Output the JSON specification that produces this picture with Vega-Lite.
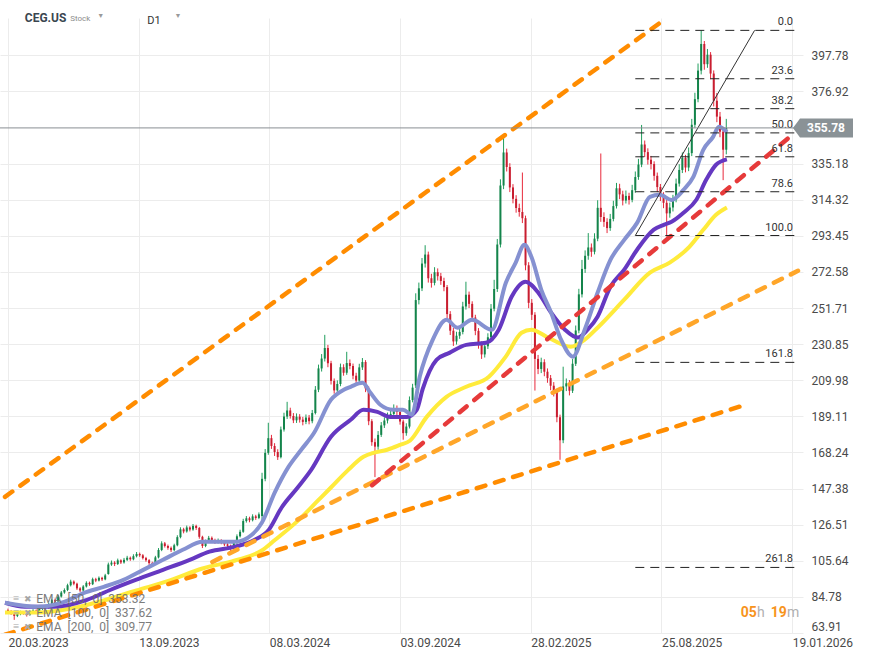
{
"$schema":"https://vega.github.io/schema/vega-lite/v6.json",
"width":803,"height":615,
"autosize":{"type":"none"},
"padding":{"left":0,"top":18,"right":68,"bottom":26},
"background":"#ffffff",
"config":{"view":{"stroke":null},"font":"Roboto"},
"datasets":{
"one":[{}],
"candles":[
{"i":0,"o":77.2,"h":78,"l":75.6,"c":76.5},{"i":3,"o":76.5,"h":77.1,"l":74.4,"c":75.2},{"i":6,"o":75.2,"h":75.9,"l":71.5,"c":73.8},{"i":9,"o":73.8,"h":75.6,"l":73.1,"c":74.9},{"i":12,"o":74.9,"h":76.8,"l":74.2,"c":76},{"i":15,"o":76,"h":76.6,"l":74.5,"c":75.1},{"i":18,"o":75.1,"h":75.8,"l":73.4,"c":74.3},{"i":21,"o":74.3,"h":76.4,"l":73.9,"c":75.8},{"i":24,"o":75.8,"h":77.7,"l":75.2,"c":76.9},{"i":27,"o":76.9,"h":77.5,"l":75.4,"c":76.2},
{"i":30,"o":76.2,"h":78.5,"l":75.8,"c":77.8},{"i":33,"o":77.8,"h":79.9,"l":77.2,"c":79.1},{"i":36,"o":79.1,"h":79.8,"l":77.6,"c":78.4},{"i":39,"o":78.4,"h":81.3,"l":78,"c":80.6},{"i":42,"o":80.6,"h":83.7,"l":80.1,"c":82.9},{"i":45,"o":82.9,"h":83.8,"l":81.3,"c":82.1},{"i":48,"o":82.1,"h":85.9,"l":81.7,"c":85},{"i":51,"o":85,"h":88.2,"l":84.4,"c":87.3},{"i":54,"o":87.3,"h":89.7,"l":86.6,"c":88.8},{"i":57,"o":88.8,"h":92.4,"l":88.1,"c":91.5},
{"i":60,"o":91.5,"h":94.7,"l":90.8,"c":93.6},{"i":63,"o":93.6,"h":94.3,"l":91.5,"c":92.4},{"i":66,"o":92.4,"h":93,"l":88.8,"c":89.7},{"i":69,"o":89.7,"h":90.4,"l":87.6,"c":88.5},{"i":72,"o":88.5,"h":91.6,"l":88,"c":90.8},{"i":75,"o":90.8,"h":93.8,"l":90.2,"c":92.9},{"i":78,"o":92.9,"h":93.6,"l":91.2,"c":92.1},{"i":81,"o":92.1,"h":95.9,"l":91.6,"c":95},{"i":84,"o":95,"h":95.8,"l":93.3,"c":94.2},{"i":87,"o":94.2,"h":96.6,"l":93.7,"c":95.8},
{"i":90,"o":95.8,"h":96.4,"l":94,"c":94.9},{"i":93,"o":94.9,"h":98.1,"l":94.4,"c":97.2},{"i":96,"o":98,"h":104.6,"l":97.6,"c":103.5},{"i":99,"o":103.5,"h":105.8,"l":102.7,"c":104.6},{"i":102,"o":104.6,"h":105.4,"l":102.6,"c":103.8},{"i":105,"o":103.8,"h":106.9,"l":103.2,"c":105.9},{"i":108,"o":105.9,"h":106.5,"l":103.8,"c":104.7},{"i":111,"o":104.7,"h":107.3,"l":104,"c":106.2},{"i":114,"o":106.2,"h":108.5,"l":105.5,"c":107.4},{"i":117,"o":107.4,"h":108.1,"l":105.6,"c":106.5},
{"i":120,"o":106.5,"h":109.4,"l":105.9,"c":108.3},{"i":123,"o":108.3,"h":110.7,"l":107.6,"c":109.6},{"i":126,"o":109.6,"h":110.4,"l":107.9,"c":108.8},{"i":129,"o":108.8,"h":109.5,"l":106.4,"c":107.2},{"i":132,"o":107.2,"h":107.9,"l":105.1,"c":106},{"i":135,"o":106,"h":106.6,"l":103.2,"c":104.3},{"i":138,"o":104.3,"h":105.1,"l":102.8,"c":103.9},{"i":141,"o":103.9,"h":108.5,"l":103.3,"c":107.6},{"i":144,"o":107.6,"h":113,"l":107,"c":111.9},{"i":147,"o":111.9,"h":116.9,"l":111.2,"c":115.7},
{"i":150,"o":115.7,"h":116.5,"l":113.3,"c":114.2},{"i":153,"o":114.2,"h":115,"l":112,"c":113.1},{"i":156,"o":113.1,"h":113.9,"l":110.7,"c":111.8},{"i":159,"o":111.8,"h":115.5,"l":111.1,"c":114.6},{"i":162,"o":114.6,"h":120.4,"l":114,"c":119.3},{"i":165,"o":119.3,"h":125,"l":118.6,"c":123.8},{"i":168,"o":123.8,"h":124.7,"l":121.5,"c":122.6},{"i":171,"o":122.6,"h":126,"l":121.9,"c":124.9},{"i":174,"o":124.9,"h":125.6,"l":122.6,"c":123.7},{"i":177,"o":123.7,"h":126.9,"l":123,"c":125.8},
{"i":180,"o":125.8,"h":126.5,"l":123.5,"c":124.6},{"i":183,"o":124.6,"h":125.2,"l":118.4,"c":119.5},{"i":186,"o":119.5,"h":120.1,"l":113,"c":114.2},{"i":189,"o":114.2,"h":117.9,"l":113.5,"c":116.8},{"i":192,"o":116.8,"h":120,"l":116.1,"c":118.9},{"i":195,"o":118.9,"h":119.7,"l":116.6,"c":117.6},{"i":198,"o":117.6,"h":118.4,"l":115.4,"c":116.3},{"i":201,"o":116.3,"h":118.5,"l":115.6,"c":117.4},{"i":204,"o":117.4,"h":118.1,"l":115.2,"c":116.2},{"i":207,"o":116.2,"h":117,"l":114.1,"c":115.1},
{"i":210,"o":115.1,"h":115.9,"l":113.2,"c":114.3},{"i":213,"o":114.3,"h":115,"l":110.8,"c":112.8},{"i":216,"o":112.8,"h":116.9,"l":112.1,"c":115.9},{"i":219,"o":115.9,"h":120.9,"l":115.3,"c":119.8},{"i":222,"o":119.8,"h":123.6,"l":119.1,"c":122.4},{"i":225,"o":122.4,"h":129.9,"l":121.8,"c":128.6},{"i":228,"o":128.6,"h":131.5,"l":127.7,"c":130.2},{"i":231,"o":130.2,"h":131.1,"l":127.9,"c":129.1},{"i":234,"o":129.1,"h":132.5,"l":128.4,"c":131.3},{"i":237,"o":131.3,"h":132.2,"l":129.3,"c":130.4},
{"i":240,"o":130.4,"h":133.6,"l":129.7,"c":132.5},{"i":243,"o":131.5,"h":156.5,"l":128,"c":153},{"i":246,"o":153,"h":170.2,"l":151.6,"c":168},{"i":249,"o":168,"h":185.4,"l":166.9,"c":176.5},{"i":252,"o":176.5,"h":178.4,"l":170.3,"c":172},{"i":255,"o":172,"h":173.6,"l":166.2,"c":168.5},{"i":258,"o":168.5,"h":170.1,"l":163.9,"c":165.5},{"i":261,"o":165.5,"h":183.2,"l":164.8,"c":181.5},{"i":264,"o":181.5,"h":191.2,"l":180.3,"c":189},{"i":267,"o":189,"h":197.5,"l":187.6,"c":192.5},
{"i":270,"o":192.5,"h":194.1,"l":187.8,"c":189.3},{"i":273,"o":189.3,"h":191,"l":185.2,"c":186.8},{"i":276,"o":186.8,"h":190.8,"l":185.3,"c":188.9},{"i":279,"o":188.9,"h":190.4,"l":185.5,"c":187.2},{"i":282,"o":187.2,"h":188.8,"l":183.9,"c":185.9},{"i":285,"o":185.9,"h":190.2,"l":184.6,"c":188.4},{"i":288,"o":188.4,"h":189.9,"l":184.5,"c":186.3},{"i":291,"o":186.3,"h":192.8,"l":185.1,"c":191},{"i":294,"o":191,"h":206.6,"l":190.2,"c":204.5},{"i":297,"o":204.5,"h":219,"l":203.1,"c":216.8},
{"i":300,"o":216.8,"h":225.1,"l":215,"c":222.5},{"i":303,"o":222.5,"h":236.2,"l":220.8,"c":228.6},{"i":306,"o":228.6,"h":230.4,"l":217.5,"c":219.8},{"i":309,"o":219.8,"h":221.2,"l":207.5,"c":209.6},{"i":312,"o":209.6,"h":211,"l":202.2,"c":204.1},{"i":315,"o":204.1,"h":209.9,"l":202.6,"c":207.8},{"i":318,"o":207.8,"h":219.6,"l":206.5,"c":217.5},{"i":321,"o":217.5,"h":219.2,"l":212.6,"c":214.3},{"i":324,"o":214.3,"h":226.4,"l":213.1,"c":219.9},{"i":327,"o":219.9,"h":222,"l":216.3,"c":218.2},
{"i":330,"o":218.2,"h":219.6,"l":210.5,"c":212.6},{"i":333,"o":212.6,"h":214.3,"l":207.9,"c":209.8},{"i":336,"o":209.8,"h":219.5,"l":208.6,"c":217.4},{"i":339,"o":217.4,"h":222.8,"l":215.9,"c":220.5},{"i":342,"o":220.5,"h":221.6,"l":203.1,"c":205.2},{"i":345,"o":205.2,"h":206.4,"l":184,"c":186.3},{"i":348,"o":186.3,"h":187.5,"l":172.1,"c":174.2},{"i":351,"o":174.2,"h":176.3,"l":154,"c":171.6},{"i":354,"o":171.6,"h":180.6,"l":169.8,"c":178.4},{"i":357,"o":178.4,"h":185.8,"l":177.2,"c":183.9},
{"i":360,"o":183.9,"h":188.6,"l":182.4,"c":186.7},{"i":363,"o":186.7,"h":191.3,"l":185,"c":189.2},{"i":366,"o":189.2,"h":192.6,"l":187.8,"c":190.5},{"i":369,"o":190.5,"h":196,"l":189.1,"c":193.8},{"i":372,"o":193.8,"h":195.4,"l":189.9,"c":191.6},{"i":375,"o":191.6,"h":192.8,"l":184.3,"c":186.1},{"i":378,"o":186.1,"h":187.2,"l":175.6,"c":179.4},{"i":381,"o":179.4,"h":185.1,"l":177.9,"c":183.2},{"i":384,"o":183.2,"h":200.6,"l":182.1,"c":198.5},{"i":387,"o":198.5,"h":207.9,"l":197.2,"c":205.7},
{"i":390,"o":207,"h":260.2,"l":205.5,"c":256.3},{"i":393,"o":256.3,"h":266.4,"l":253.8,"c":263.1},{"i":396,"o":263.1,"h":280.6,"l":261.5,"c":277.4},{"i":399,"o":277.4,"h":288,"l":275.1,"c":282.6},{"i":402,"o":282.6,"h":284.3,"l":266.4,"c":268.9},{"i":405,"o":268.9,"h":271.5,"l":263.5,"c":266.2},{"i":408,"o":266.2,"h":275.3,"l":264.8,"c":272.4},{"i":411,"o":272.4,"h":274.6,"l":267.6,"c":270.1},{"i":414,"o":270.1,"h":272,"l":265.1,"c":267.3},{"i":417,"o":267.3,"h":269.2,"l":261.4,"c":263.8},
{"i":420,"o":263.8,"h":265,"l":245.6,"c":248.2},{"i":423,"o":248.2,"h":249.9,"l":236.1,"c":238.6},{"i":426,"o":238.6,"h":240.2,"l":229.8,"c":232.4},{"i":429,"o":232.4,"h":238,"l":230.6,"c":235.7},{"i":432,"o":235.7,"h":240.4,"l":233.9,"c":237.9},{"i":435,"o":237.9,"h":255.3,"l":236.5,"c":252.6},{"i":438,"o":252.6,"h":266.9,"l":250.8,"c":259.4},{"i":441,"o":259.4,"h":261.2,"l":251.7,"c":254.1},{"i":444,"o":254.1,"h":255.6,"l":243.9,"c":246.2},{"i":447,"o":246.2,"h":247.8,"l":236,"c":238.5},
{"i":450,"o":238.5,"h":240.1,"l":228.2,"c":230.8},{"i":453,"o":230.8,"h":232.4,"l":222.3,"c":224.9},{"i":456,"o":224.9,"h":232,"l":223.1,"c":229.6},{"i":459,"o":229.6,"h":237.1,"l":228,"c":234.8},{"i":462,"o":234.8,"h":254,"l":233.5,"c":251.3},{"i":465,"o":251.3,"h":268,"l":249.8,"c":262.7},{"i":468,"o":262.7,"h":291.6,"l":261,"c":288.4},{"i":471,"o":288.4,"h":326.1,"l":286.7,"c":322.5},{"i":474,"o":322.5,"h":351,"l":320.4,"c":341.6},{"i":477,"o":341.6,"h":343.8,"l":330.6,"c":333.2},
{"i":480,"o":333.2,"h":335.4,"l":318.7,"c":321.4},{"i":483,"o":321.4,"h":323.3,"l":312.2,"c":314.8},{"i":486,"o":314.8,"h":316.9,"l":306.8,"c":309.5},{"i":489,"o":309.5,"h":312,"l":304.5,"c":307.2},{"i":492,"o":307.2,"h":330,"l":300.8,"c":303.6},{"i":495,"o":303.6,"h":305.1,"l":273.5,"c":276.4},{"i":498,"o":276.4,"h":278.2,"l":251.6,"c":254.7},{"i":501,"o":254.7,"h":256.9,"l":244.8,"c":247.8},{"i":504,"o":247.8,"h":249.3,"l":204,"c":222.3},{"i":507,"o":222.3,"h":224.6,"l":213.5,"c":216.5},
{"i":510,"o":216.5,"h":223,"l":214.1,"c":220.4},{"i":513,"o":220.4,"h":222.1,"l":212.3,"c":214.9},{"i":516,"o":214.9,"h":216.8,"l":208.5,"c":211.2},{"i":519,"o":211.2,"h":213,"l":204.2,"c":206.8},{"i":522,"o":206.8,"h":208.9,"l":200.6,"c":203.5},{"i":525,"o":203.5,"h":205,"l":185.7,"c":188.6},{"i":528,"o":188.6,"h":190.1,"l":164,"c":175.3},{"i":531,"o":175.3,"h":217.8,"l":173.6,"c":206.4},{"i":534,"o":206.4,"h":211,"l":203.7,"c":208.2},{"i":537,"o":208.2,"h":210.1,"l":201.2,"c":203.9},
{"i":540,"o":203.9,"h":222.3,"l":202.6,"c":219.5},{"i":543,"o":219.5,"h":241.6,"l":218.2,"c":238.7},{"i":546,"o":238.7,"h":262.8,"l":237.1,"c":259.6},{"i":549,"o":259.6,"h":279.5,"l":257.8,"c":274.3},{"i":552,"o":274.3,"h":285,"l":272,"c":281.9},{"i":555,"o":281.9,"h":295,"l":279.6,"c":286.7},{"i":558,"o":286.7,"h":289,"l":281.3,"c":284.2},{"i":561,"o":284.2,"h":294.9,"l":282.7,"c":291.8},{"i":564,"o":291.8,"h":314,"l":290.3,"c":309.6},{"i":567,"o":309.6,"h":341,"l":301.5,"c":304.3},
{"i":570,"o":304.3,"h":307,"l":298.6,"c":301.5},{"i":573,"o":301.5,"h":303.6,"l":295,"c":297.9},{"i":576,"o":297.9,"h":306.1,"l":296.3,"c":303.2},{"i":579,"o":303.2,"h":313.7,"l":301.8,"c":310.6},{"i":582,"o":310.6,"h":324,"l":309.2,"c":320.9},{"i":585,"o":320.9,"h":323.5,"l":314.6,"c":317.4},{"i":588,"o":317.4,"h":319.5,"l":311,"c":313.8},{"i":591,"o":313.8,"h":319.6,"l":312.1,"c":316.5},{"i":594,"o":316.5,"h":318.3,"l":311.5,"c":314.2},{"i":597,"o":314.2,"h":322.9,"l":312.8,"c":319.8},
{"i":600,"o":319.8,"h":330.6,"l":318.3,"c":327.4},{"i":603,"o":327.4,"h":337.9,"l":325.8,"c":334.6},{"i":606,"o":334.6,"h":357.5,"l":333.1,"c":346.2},{"i":609,"o":346.2,"h":348.5,"l":339,"c":341.8},{"i":612,"o":341.8,"h":344,"l":334.6,"c":337.4},{"i":615,"o":337.4,"h":339.6,"l":331.8,"c":334.9},{"i":618,"o":334.9,"h":336.5,"l":325.3,"c":328.1},{"i":621,"o":328.1,"h":330,"l":318.7,"c":321.6},{"i":624,"o":321.6,"h":323.4,"l":313.5,"c":316.3},{"i":627,"o":316.3,"h":318.6,"l":309.4,"c":312.5},
{"i":630,"o":312.5,"h":314.1,"l":293,"c":306.4},{"i":633,"o":306.4,"h":312.6,"l":303.9,"c":309.8},{"i":636,"o":309.8,"h":317.1,"l":307.5,"c":314.2},{"i":639,"o":314.2,"h":326.5,"l":312.8,"c":323.6},{"i":642,"o":323.6,"h":334.8,"l":321.9,"c":331.5},{"i":645,"o":331.5,"h":341.6,"l":329.7,"c":338.4},{"i":648,"o":338.4,"h":340.2,"l":330.1,"c":332.9},{"i":651,"o":332.9,"h":344.5,"l":330.8,"c":341.2},{"i":654,"o":341.2,"h":361,"l":339.5,"c":357.6},{"i":657,"o":357.6,"h":376.1,"l":355.8,"c":372.4},
{"i":660,"o":372.4,"h":393,"l":370.6,"c":388.9},{"i":663,"o":388.9,"h":412.15,"l":386.7,"c":404.3},{"i":666,"o":404.3,"h":406,"l":389.4,"c":392.6},{"i":669,"o":392.6,"h":401.4,"l":390.5,"c":398.1},{"i":672,"o":398.1,"h":399.6,"l":383.9,"c":387.2},{"i":675,"o":387.2,"h":389,"l":368.2,"c":371.5},{"i":678,"o":371.5,"h":376,"l":359.1,"c":362.3},{"i":681,"o":362.3,"h":365,"l":350.4,"c":353.6},{"i":684,"o":353.6,"h":355.2,"l":325.6,"c":343.2},{"i":687,"o":343.2,"h":361,"l":340.5,"c":355.78}
],
"ema":[
{"s":"e50","i":-2.8,"v":81.4},{"s":"e50","i":28.3,"v":79.1},{"s":"e50","i":53.8,"v":81.9},{"s":"e50","i":72.7,"v":87.1},{"s":"e50","i":91.6,"v":90.6},{"s":"e50","i":110.5,"v":94.6},{"s":"e50","i":129.4,"v":100.4},{"s":"e50","i":148.3,"v":106.2},{"s":"e50","i":167.2,"v":112},{"s":"e50","i":186.1,"v":116.6},{"s":"e50","i":202,"v":116.6},{"s":"e50","i":217.2,"v":116.6},{"s":"e50","i":233.3,"v":120.7},{"s":"e50","i":242.8,"v":127.6},{"s":"e50","i":255,"v":144.9},{"s":"e50","i":268.3,"v":159.9},{"s":"e50","i":280.5,"v":169.8},{"s":"e50","i":292.8,"v":179.6},{"s":"e50","i":308.9,"v":198.7},{"s":"e50","i":321.2,"v":204.5},{"s":"e50","i":327.8,"v":206.2},{"s":"e50","i":339.1,"v":208.5},{"s":"e50","i":346.7,"v":202.7},{"s":"e50","i":356.1,"v":195.8},{"s":"e50","i":368.4,"v":192.9},{"s":"e50","i":377.8,"v":192.9},{"s":"e50","i":386.3,"v":190},{"s":"e50","i":393.9,"v":212.2},{"s":"e50","i":406.2,"v":233.3},{"s":"e50","i":419.4,"v":244.9},{"s":"e50","i":429.8,"v":240.3},{"s":"e50","i":443.9,"v":244.9},{"s":"e50","i":462.8,"v":239.1},{"s":"e50","i":476.1,"v":266.2},{"s":"e50","i":485.5,"v":277.8},{"s":"e50","i":494,"v":288.2},{"s":"e50","i":500.6,"v":281.3},{"s":"e50","i":510.1,"v":262.2},{"s":"e50","i":519.5,"v":249},{"s":"e50","i":529,"v":233.4},{"s":"e50","i":540.3,"v":223.6},{"s":"e50","i":551.6,"v":239.2},{"s":"e50","i":563.9,"v":260.5},{"s":"e50","i":576.2,"v":279.5},{"s":"e50","i":589.4,"v":291.1},{"s":"e50","i":601.7,"v":300.9},{"s":"e50","i":614,"v":315.9},{"s":"e50","i":623.4,"v":317.1},{"s":"e50","i":634.7,"v":314.2},{"s":"e50","i":646.1,"v":320},{"s":"e50","i":655.5,"v":327.5},{"s":"e50","i":665,"v":343.1},{"s":"e50","i":674.4,"v":350.6},{"s":"e50","i":680,"v":356.4},{"s":"e50","i":687.6,"v":353.3},
{"s":"e100","i":-2.8,"v":81.4},{"s":"e100","i":16,"v":79.1},{"s":"e100","i":44.4,"v":79.1},{"s":"e100","i":75.6,"v":83.1},{"s":"e100","i":98.2,"v":88.9},{"s":"e100","i":122.8,"v":94.7},{"s":"e100","i":148.3,"v":100.4},{"s":"e100","i":173.8,"v":106.2},{"s":"e100","i":192.7,"v":110.9},{"s":"e100","i":217.2,"v":113.8},{"s":"e100","i":236.1,"v":117.8},{"s":"e100","i":249.4,"v":123.5},{"s":"e100","i":261.6,"v":136.3},{"s":"e100","i":277.7,"v":148.4},{"s":"e100","i":290,"v":158.2},{"s":"e100","i":308.9,"v":177.3},{"s":"e100","i":327.8,"v":187.1},{"s":"e100","i":340,"v":192.9},{"s":"e100","i":353.3,"v":191.7},{"s":"e100","i":365.5,"v":188.8},{"s":"e100","i":381.6,"v":188.8},{"s":"e100","i":391,"v":192.9},{"s":"e100","i":396.7,"v":205},{"s":"e100","i":409.9,"v":221.8},{"s":"e100","i":422.2,"v":225.8},{"s":"e100","i":438.3,"v":230.4},{"s":"e100","i":457.2,"v":231.6},{"s":"e100","i":469.4,"v":239.2},{"s":"e100","i":481.7,"v":258.2},{"s":"e100","i":494.9,"v":266.9},{"s":"e100","i":507.2,"v":260.6},{"s":"e100","i":519.5,"v":249},{"s":"e100","i":532.7,"v":239.2},{"s":"e100","i":545,"v":234.6},{"s":"e100","i":554.4,"v":239.2},{"s":"e100","i":563.9,"v":246.7},{"s":"e100","i":576.2,"v":264},{"s":"e100","i":589.4,"v":273.9},{"s":"e100","i":601.7,"v":285.4},{"s":"e100","i":617.7,"v":297},{"s":"e100","i":627.2,"v":299.8},{"s":"e100","i":634.7,"v":301.6},{"s":"e100","i":646.1,"v":306.8},{"s":"e100","i":658.4,"v":314.3},{"s":"e100","i":667.8,"v":325.8},{"s":"e100","i":677.2,"v":334.5},{"s":"e100","i":687.6,"v":337.6},
{"s":"e200","i":-2.8,"v":75.8},{"s":"e200","i":28.3,"v":75.8},{"s":"e200","i":60.5,"v":78.1},{"s":"e200","i":91.6,"v":82.7},{"s":"e200","i":122.8,"v":88.5},{"s":"e200","i":154.9,"v":94.3},{"s":"e200","i":186.1,"v":101.2},{"s":"e200","i":217.2,"v":105.8},{"s":"e200","i":242.8,"v":111.6},{"s":"e200","i":255,"v":117.5},{"s":"e200","i":277.7,"v":129},{"s":"e200","i":296.6,"v":140.5},{"s":"e200","i":308.9,"v":148},{"s":"e200","i":325,"v":157.9},{"s":"e200","i":340,"v":165.7},{"s":"e200","i":349.5,"v":168},{"s":"e200","i":362.7,"v":169.8},{"s":"e200","i":375,"v":172.6},{"s":"e200","i":384.4,"v":175},{"s":"e200","i":400.5,"v":188.8},{"s":"e200","i":419.4,"v":200.4},{"s":"e200","i":438.3,"v":206.2},{"s":"e200","i":460,"v":212},{"s":"e200","i":476.1,"v":223.6},{"s":"e200","i":491.2,"v":237.4},{"s":"e200","i":500.6,"v":239.2},{"s":"e200","i":516.7,"v":234.6},{"s":"e200","i":538.4,"v":229.3},{"s":"e200","i":551.6,"v":233.4},{"s":"e200","i":563.9,"v":240.3},{"s":"e200","i":589.4,"v":256.5},{"s":"e200","i":614,"v":272.1},{"s":"e200","i":632.9,"v":277.9},{"s":"e200","i":651.7,"v":287.1},{"s":"e200","i":665,"v":296.9},{"s":"e200","i":677.2,"v":305.6},{"s":"e200","i":687.6,"v":309.8}
],
"trend":[
{"g":"top","i":-2.83,"v":142.6},{"g":"top","i":630,"v":419.3},
{"g":"low","i":-2.83,"v":62.9},{"g":"low","i":705.6,"v":195.8},
{"g":"mid","i":195.5,"v":105},{"g":"mid","i":755.6,"v":273.2},
{"g":"red","i":348.3,"v":149.3},{"g":"red","i":750,"v":351.7}
],
"fib":[
{"lvl":"0.0","v":412.15},{"lvl":"23.6","v":384.2},{"lvl":"38.2","v":366.9},{"lvl":"50.0","v":352.9},{"lvl":"61.8","v":339.1},{"lvl":"78.6","v":318.9},{"lvl":"100.0","v":293.6},{"lvl":"161.8","v":220.3},{"lvl":"261.8","v":101.8}
],
"diag":[{"i":600,"v":293.6},{"i":714.1,"v":412.15}],
"legend":[{"k":1,"t":"EMA\u00a0 [50,\u00a0 0]\u00a0 353.32","v":83.67},{"k":2,"t":"EMA\u00a0 [100,\u00a0 0]\u00a0 337.62","v":75.58},{"k":3,"t":"EMA\u00a0 [200,\u00a0 0]\u00a0 309.77","v":67.49}]
},
"layer":[
{"data":{"name":"candles"},"mark":{"type":"rule","strokeWidth":1,"clip":true},
 "encoding":{
  "x":{"field":"i","type":"quantitative","scale":{"domain":[-2.83,755.6],"nice":false,"zero":false},
   "axis":{"values":[0,125,250,375,500,625,750],"labelExpr":"datum.value==0?'20.03.2023':datum.value==125?'13.09.2023':datum.value==250?'08.03.2024':datum.value==375?'03.09.2024':datum.value==500?'28.02.2025':datum.value==625?'25.08.2025':'19.01.2026'","labelAlign":"left","labelFlush":false,"labelOverlap":false,"ticks":false,"domain":false,"title":null,"grid":true,"gridColor":"#ececec","labelPadding":4,"labelFontSize":12,"labelColor":"#4a4a4a","labelFont":"Roboto"}},
  "y":{"field":"l","type":"quantitative","scale":{"domain":[63.91,419.3],"nice":false,"zero":false},
   "axis":{"orient":"right","values":[63.91,84.78,105.64,126.51,147.38,168.24,189.11,209.98,230.85,251.71,272.58,293.45,314.32,335.18,376.92,397.78],"format":".2f","ticks":false,"domain":false,"title":null,"grid":true,"gridColor":"#ececec","labelPadding":8,"labelFontSize":12,"labelColor":"#4a4a4a","labelFont":"Roboto","labelOverlap":false,"labelFlush":true}},
  "y2":{"field":"h"},
  "color":{"condition":{"test":"datum.c >= datum.o","value":"#1f9d5c"},"value":"#e8293b"}
 }},
{"data":{"name":"candles"},"mark":{"type":"bar","width":2,"clip":true},
 "encoding":{"x":{"field":"i","type":"quantitative"},"y":{"field":"o","type":"quantitative"},"y2":{"field":"c"},
  "color":{"condition":{"test":"datum.c >= datum.o","value":"#14844b"},"value":"#c81e30"}}},
{"data":{"name":"ema"},"transform":[{"filter":"datum.s=='e200'"}],"mark":{"type":"line","strokeWidth":4,"interpolate":"monotone","color":"#ffeb3b","clip":true},
 "encoding":{"x":{"field":"i","type":"quantitative"},"y":{"field":"v","type":"quantitative"}}},
{"data":{"name":"ema"},"transform":[{"filter":"datum.s=='e100'"}],"mark":{"type":"line","strokeWidth":4,"interpolate":"monotone","color":"#6538c1","clip":true},
 "encoding":{"x":{"field":"i","type":"quantitative"},"y":{"field":"v","type":"quantitative"}}},
{"data":{"name":"ema"},"transform":[{"filter":"datum.s=='e50'"}],"mark":{"type":"line","strokeWidth":4,"interpolate":"monotone","color":"#8591d1","clip":true},
 "encoding":{"x":{"field":"i","type":"quantitative"},"y":{"field":"v","type":"quantitative"}}},
{"data":{"name":"trend"},"mark":{"type":"line","strokeWidth":4.5,"strokeDash":[9,10],"strokeCap":"round","clip":true},
 "encoding":{"x":{"field":"i","type":"quantitative"},"y":{"field":"v","type":"quantitative"},"detail":{"field":"g"},
  "color":{"field":"g","type":"nominal","legend":null,"scale":{"domain":["top","low","mid","red"],"range":["#ff8c00","#ff8c00","#ffa629","#e63a3a"]}}}},
{"data":{"name":"fib"},"mark":{"type":"rule","color":"#222222","strokeWidth":1,"strokeDash":[9,6]},
 "encoding":{"x":{"datum":600},"x2":{"datum":755.6},"y":{"field":"v","type":"quantitative"}}},
{"data":{"name":"fib"},"mark":{"type":"text","align":"right","baseline":"bottom","dx":-5,"dy":-3,"fontSize":11,"color":"#333333"},
 "encoding":{"x":{"datum":755.6},"y":{"field":"v","type":"quantitative"},"text":{"field":"lvl"}}},
{"data":{"name":"diag"},"mark":{"type":"line","color":"#333333","strokeWidth":1},
 "encoding":{"x":{"field":"i","type":"quantitative"},"y":{"field":"v","type":"quantitative"}}},
{"data":{"name":"one"},"mark":{"type":"rule","color":"#8a8f93","strokeWidth":1},"encoding":{"y":{"datum":355.78}}},
{"data":{"name":"one"},"mark":{"type":"point","shape":"M -0.167 0 L 0.067 -0.317 L 1.833 -0.317 L 1.833 0.317 L 0.067 0.317 Z","size":3600,"filled":true,"color":"#8a9296","opacity":1,"strokeWidth":0},
 "encoding":{"x":{"datum":755.6},"y":{"datum":355.78}}},
{"data":{"name":"one"},"mark":{"type":"text","text":"355.78","dx":28,"fontSize":12,"fontWeight":"bold","color":"#ffffff","align":"center","baseline":"middle"},
 "encoding":{"x":{"datum":755.6},"y":{"datum":355.78}}},
{"data":{"name":"one"},"mark":{"type":"text","text":"CEG.US","align":"left","baseline":"middle","fontSize":12,"fontWeight":"bold","color":"#3a4650"},
 "encoding":{"x":{"datum":16.1},"y":{"datum":419.3}}},
{"data":{"name":"one"},"mark":{"type":"text","text":"Stock","align":"left","baseline":"middle","dy":1,"fontSize":8,"color":"#8c8c8c"},
 "encoding":{"x":{"datum":59.5},"y":{"datum":419.3}}},
{"data":{"name":"one"},"mark":{"type":"text","text":"▼","align":"center","baseline":"middle","dy":-2,"fontSize":7,"color":"#9a9a9a"},
 "encoding":{"x":{"datum":88.8},"y":{"datum":419.3}}},
{"data":{"name":"one"},"mark":{"type":"text","text":"D1","align":"left","baseline":"middle","dy":3,"fontSize":11,"color":"#333333"},
 "encoding":{"x":{"datum":133.2},"y":{"datum":419.3}}},
{"data":{"name":"one"},"mark":{"type":"text","text":"▼","align":"center","baseline":"middle","dy":-2,"fontSize":7,"color":"#9a9a9a"},
 "encoding":{"x":{"datum":162.5},"y":{"datum":419.3}}},
{"data":{"name":"legend"},"mark":{"type":"text","align":"left","baseline":"middle","fontSize":12,"color":"#6e6e6e","opacity":0.9},
 "encoding":{"x":{"datum":27.1},"y":{"field":"v","type":"quantitative"},"text":{"field":"t"}}},
{"data":{"name":"legend"},"mark":{"type":"text","text":"≡","align":"center","baseline":"middle","fontSize":11,"color":"#a6a6a6"},
 "encoding":{"x":{"datum":7.6},"y":{"field":"v","type":"quantitative"}}},
{"data":{"name":"legend"},"mark":{"type":"text","text":"✖","align":"center","baseline":"middle","fontSize":9,"color":"#a6a6a6"},
 "encoding":{"x":{"datum":19.4},"y":{"field":"v","type":"quantitative"}}},
{"data":{"name":"one"},"mark":{"type":"text","text":"05","align":"left","baseline":"middle","fontSize":14,"fontWeight":"bold","color":"#f7941d"},
 "encoding":{"x":{"datum":700.9},"y":{"datum":75.4}}},
{"data":{"name":"one"},"mark":{"type":"text","text":"h","align":"left","baseline":"middle","fontSize":14,"color":"#b0b0b0"},
 "encoding":{"x":{"datum":716.5},"y":{"datum":75.4}}},
{"data":{"name":"one"},"mark":{"type":"text","text":"19","align":"left","baseline":"middle","fontSize":14,"fontWeight":"bold","color":"#f7941d"},
 "encoding":{"x":{"datum":729.5},"y":{"datum":75.4}}},
{"data":{"name":"one"},"mark":{"type":"text","text":"m","align":"left","baseline":"middle","fontSize":14,"color":"#b0b0b0"},
 "encoding":{"x":{"datum":745},"y":{"datum":75.4}}}
]
}
